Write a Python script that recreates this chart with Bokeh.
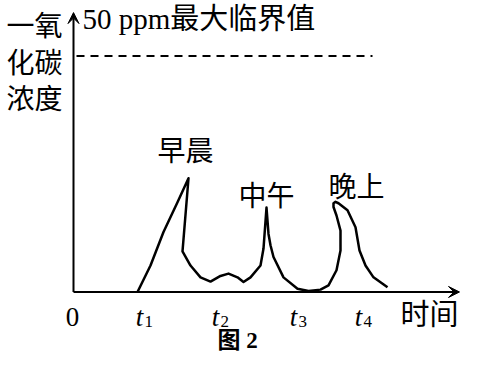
from bokeh.plotting import figure
from bokeh.models import Range1d, Arrow, VeeHead, ColumnDataSource
from bokeh.core.properties import value
from bokeh.embed import file_html
from bokeh.resources import INLINE

# ---- data (time in arbitrary units, CO concentration in ppm) ----
time = [6.4, 7.7, 9.0, 10.4, 11.5, 10.9, 11.7, 12.7, 13.7, 14.7, 15.5, 16.4, 17.0,
        17.7, 18.7, 19.0, 19.3, 19.5, 19.7, 20.0, 21.0, 22.4, 23.5, 24.7, 25.5,
        26.3, 26.7, 26.7, 26.3, 26.0, 26.0, 26.2, 26.5, 27.4, 28.2, 28.6, 29.2,
        30.0, 31.4]
co_ppm = [0.0, 5.6, 12.7, 19.0, 24.1, 8.6, 5.6, 3.1, 2.2, 3.4, 3.9, 3.1, 2.1,
          3.1, 5.6, 9.2, 17.9, 12.3, 9.9, 7.4, 3.1, 0.7, 0.2, 0.5, 1.4,
          4.6, 8.8, 13.0, 16.2, 18.0, 18.8, 19.1, 18.8, 17.3, 13.7, 8.8, 5.6,
          3.1, 1.0]

peak_names = ["早晨", "中午", "晚上"]
peak_time = [11.5, 19.3, 26.2]
peak_co = [24.1, 17.9, 19.1]

threshold = 50
threshold_label = "50 ppm最大临界值"
threshold_until = 29.9

tick_pos = [6.6, 14.2, 22.0, 28.5]
tick_sub = ["1", "2", "3", "4"]
origin_label = "0"
x_title = "时间"
y_title_lines = ["一氧", "化碳", "浓度"]
caption = "图 2"

x_start, x_end = -7.3, 38.8
y_start, y_end = -13.67, 61.76
x_tip, y_tip = 38.6, 59.2

SERIF = value("'Liberation Serif', 'Noto Sans CJK SC'")
CJK = value("Noto Sans CJK SC")

p = figure(width=461, height=356, x_range=Range1d(x_start, x_end),
           y_range=Range1d(y_start, y_end), output_backend="svg",
           toolbar_location=None, min_border=0,
           x_axis_location=None, y_axis_location=None)
p.grid.visible = False
p.outline_line_color = None
p.background_fill_color = "white"
p.border_fill_color = "white"

# axes with arrows
p.add_layout(Arrow(end=VeeHead(size=11, fill_color="black", line_color="black", line_width=1),
                   x_start=0, y_start=0, x_end=x_tip, y_end=0,
                   line_width=2, line_color="black"))
p.add_layout(Arrow(end=VeeHead(size=11, fill_color="black", line_color="black", line_width=1),
                   x_start=0, y_start=0, x_end=0, y_end=y_tip,
                   line_width=2, line_color="black"))

# threshold dashed line
p.line(x=[0.3, threshold_until], y=[threshold, threshold], line_color="black",
       line_width=2, line_dash="8 6")

# CO curve
p.line(x=time, y=co_ppm, line_color="black", line_width=2.5, line_join="round")

# peak labels
src = ColumnDataSource(dict(x=peak_time, y=peak_co, t=peak_names,
                            dx=[-3, 0, 21], dy=[-29, -14, -17]))
p.text(x="x", y="y", text="t", x_offset="dx", y_offset="dy", source=src,
       text_align="center", text_baseline="middle", text_font=CJK,
       text_font_size="28px", text_color="black")

# threshold label
p.text(x=[0], y=[threshold], text=[threshold_label], x_offset=9, y_offset=-37.5,
       text_align="left", text_baseline="middle", text_font=SERIF,
       text_font_size="29px", text_color="black")

# y title (three stacked lines)
ysrc = ColumnDataSource(dict(x=[0] * 3, y=[threshold] * 3, t=y_title_lines,
                             dy=[-32.5, 4.5, 40.5]))
p.text(x="x", y="y", text="t", y_offset="dy", source=ysrc, x_offset=-11,
       text_align="right", text_baseline="middle", text_font=CJK,
       text_font_size="28px", text_color="black")

# origin label
p.text(x=[0], y=[0], text=[origin_label], x_offset=-1, y_offset=25,
       text_align="center", text_baseline="alphabetic", text_font=SERIF,
       text_font_size="27px", text_color="black")

# t ticks
p.text(x=tick_pos, y=[0] * len(tick_pos), text=["t"] * len(tick_pos),
       y_offset=25, text_align="center", text_baseline="alphabetic",
       text_font=SERIF, text_font_style="italic", text_font_size="27px",
       text_color="black")
p.text(x=tick_pos, y=[0] * len(tick_pos), text=tick_sub, x_offset=5,
       y_offset=30, text_align="left", text_baseline="alphabetic",
       text_font=SERIF, text_font_size="17px", text_color="black")

# x title
p.text(x=[x_tip], y=[0], text=[x_title], x_offset=-1, y_offset=20,
       text_align="right", text_baseline="middle", text_font=CJK,
       text_font_size="29px", text_color="black")

# caption
p.text(x=[16.4], y=[0], text=[caption], y_offset=49,
       text_align="center", text_baseline="middle", text_font=SERIF,
       text_font_style="bold", text_font_size="23px", text_color="black")

open("out.html", "w").write(file_html(p, INLINE))
